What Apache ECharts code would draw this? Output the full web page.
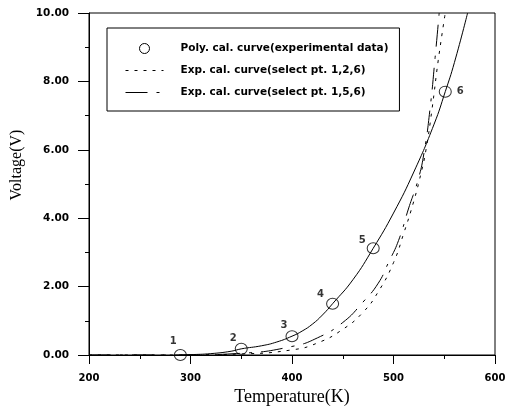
<!DOCTYPE html>
<html>
<head>
<meta charset="utf-8">
<script src="https://cdn.jsdelivr.net/npm/echarts@6/dist/echarts.min.js"></script>
<style>
  html, body { margin: 0; padding: 0; background: #fff; }
  #chart { width: 508px; height: 408px; }
</style>
</head>
<body>
<div id="chart"></div>
<script>
// experimental points (circles)
const pointT = [290, 350, 400, 440, 480, 551];
const pointV = [0.0, 0.18, 0.55, 1.5, 3.12, 7.7];
const pointNames = ['1', '2', '3', '4', '5', '6'];

// poly. cal. curve
const polyT = [290, 300, 320, 340, 350, 370, 385, 400, 410, 420, 430, 440, 460, 480, 500, 520, 540, 551, 560, 573];
const polyV = [0.0, 0.01, 0.04, 0.11, 0.18, 0.27, 0.38, 0.55, 0.7, 0.9, 1.17, 1.5, 2.2, 3.12, 4.15, 5.35, 6.75, 7.7, 8.55, 10];

// exp. cal. curve (select pt. 1,2,6)
const exp126T = [200, 290, 350, 400, 425, 450, 470, 485, 500, 510, 520, 527, 532, 538, 544, 551];
const exp126V = [0.0, 0.0, 0.03, 0.15, 0.35, 0.75, 1.25, 1.85, 2.7, 3.55, 4.5, 5.3, 6.0, 7.2, 8.6, 10];

// exp. cal. curve (select pt. 1,5,6)
const exp156T = [200, 290, 350, 400, 425, 450, 470, 485, 495, 505, 515, 524, 530, 536, 541, 545];
const exp156V = [0.0, 0.0, 0.05, 0.25, 0.5, 0.95, 1.55, 2.1, 2.7, 3.35, 4.3, 5.1, 5.9, 7.2, 8.7, 10];

const xTicks = { min: 200, max: 600, interval: 100 };
const yTicks = { min: 0, max: 10, interval: 2 };

const legendNames = [
  'Poly. cal. curve(experimental data)',
  'Exp. cal. curve(select pt. 1,2,6)',
  'Exp. cal. curve(select pt. 1,5,6)'
];

const zip = (a, b) => a.map((v, i) => [v, b[i]]);
const labelOffsets = [[-7, 2], [-8, 6], [-8, 5], [-12, 7], [-11, 8], [15, 16]];

const chart = echarts.init(document.getElementById('chart'));
const boldFont = { fontFamily: 'DejaVu Sans', fontWeight: 'bold', color: '#000' };
const dashShort = [3, 6];
const dashDot = [22, 9, 3, 9];

const option = {
  animation: false,
  backgroundColor: '#fff',
  grid: {
    left: 89, right: 13, top: 13, bottom: 53,
    containLabel: false, outerBoundsMode: 'none',
    show: true, borderColor: '#000', borderWidth: 1
  },
  legend: {
    orient: 'vertical',
    left: 107, top: 28,
    padding: [15, 11, 13, 18],
    itemWidth: 38, itemHeight: 10, itemGap: 11,
    borderColor: '#000', borderWidth: 1,
    textStyle: Object.assign({ fontSize: 10.5, padding: [0, 0, 0, 12] }, boldFont),
    data: [
      {
        name: legendNames[0], icon: 'circle',
        itemStyle: { color: 'rgba(255,255,255,0)', borderColor: '#000', borderWidth: 1, opacity: 1 }
      },
      {
        name: legendNames[1],
        itemStyle: { opacity: 0 },
        lineStyle: { color: '#000', width: 1, type: dashShort, opacity: 1 }
      },
      {
        name: legendNames[2],
        itemStyle: { opacity: 0 },
        lineStyle: { color: '#000', width: 1, type: dashDot, opacity: 1 }
      }
    ]
  },
  xAxis: {
    type: 'value',
    min: xTicks.min, max: xTicks.max, interval: xTicks.interval,
    name: 'Temperature(K)', nameLocation: 'middle', nameGap: 29,
    nameTextStyle: { fontFamily: 'Liberation Serif', fontSize: 18, color: '#000' },
    axisLine: { lineStyle: { color: '#000', width: 1 } },
    axisTick: { show: true, inside: false, length: 9, lineStyle: { color: '#000' } },
    minorTick: { show: true, splitNumber: 2, length: 4, lineStyle: { color: '#000' } },
    splitLine: { show: false },
    axisLabel: Object.assign({ fontSize: 10, margin: 18 }, boldFont)
  },
  yAxis: {
    type: 'value',
    min: yTicks.min, max: yTicks.max, interval: yTicks.interval,
    name: 'Voltage(V)', nameLocation: 'middle', nameGap: 63,
    nameTextStyle: { fontFamily: 'Liberation Serif', fontSize: 16, color: '#000', padding: [0, 0, 0, 38] },
    axisLine: { show: true, lineStyle: { color: '#000', width: 1 } },
    axisTick: { show: true, inside: false, length: 11, lineStyle: { color: '#000' } },
    minorTick: { show: true, splitNumber: 2, length: 4, lineStyle: { color: '#000' } },
    splitLine: { show: false },
    axisLabel: Object.assign({ fontSize: 10.5, margin: 20, formatter: v => v.toFixed(2) }, boldFont)
  },
  series: [
    {
      type: 'line', name: 'poly-line',
      data: zip(polyT, polyV),
      smooth: 0.5, symbol: 'none',
      lineStyle: { color: '#000', width: 1 },
      z: 3
    },
    {
      type: 'line', name: legendNames[1],
      data: zip(exp126T, exp126V),
      smooth: 0.5, symbol: 'none',
      itemStyle: { color: '#000' },
      lineStyle: { color: '#000', width: 1, type: dashShort }
    },
    {
      type: 'line', name: legendNames[2],
      data: zip(exp156T, exp156V),
      smooth: 0.5, symbol: 'none',
      itemStyle: { color: '#000' },
      lineStyle: { color: '#000', width: 1, type: dashDot }
    },
    {
      type: 'scatter', name: legendNames[0],
      symbol: 'circle', symbolSize: [12, 11],
      itemStyle: { color: 'rgba(255,255,255,0)', borderColor: '#000', borderWidth: 1 },
      z: 5,
      data: pointT.map((t, i) => ({
        value: [t, pointV[i]],
        name: pointNames[i],
        label: {
          show: true, position: 'top', formatter: '{b}',
          offset: labelOffsets[i],
          fontSize: 10, fontFamily: 'DejaVu Sans', fontWeight: 'bold', color: '#000'
        }
      }))
    }
  ]
};

chart.setOption(option);
</script>
</body>
</html>
